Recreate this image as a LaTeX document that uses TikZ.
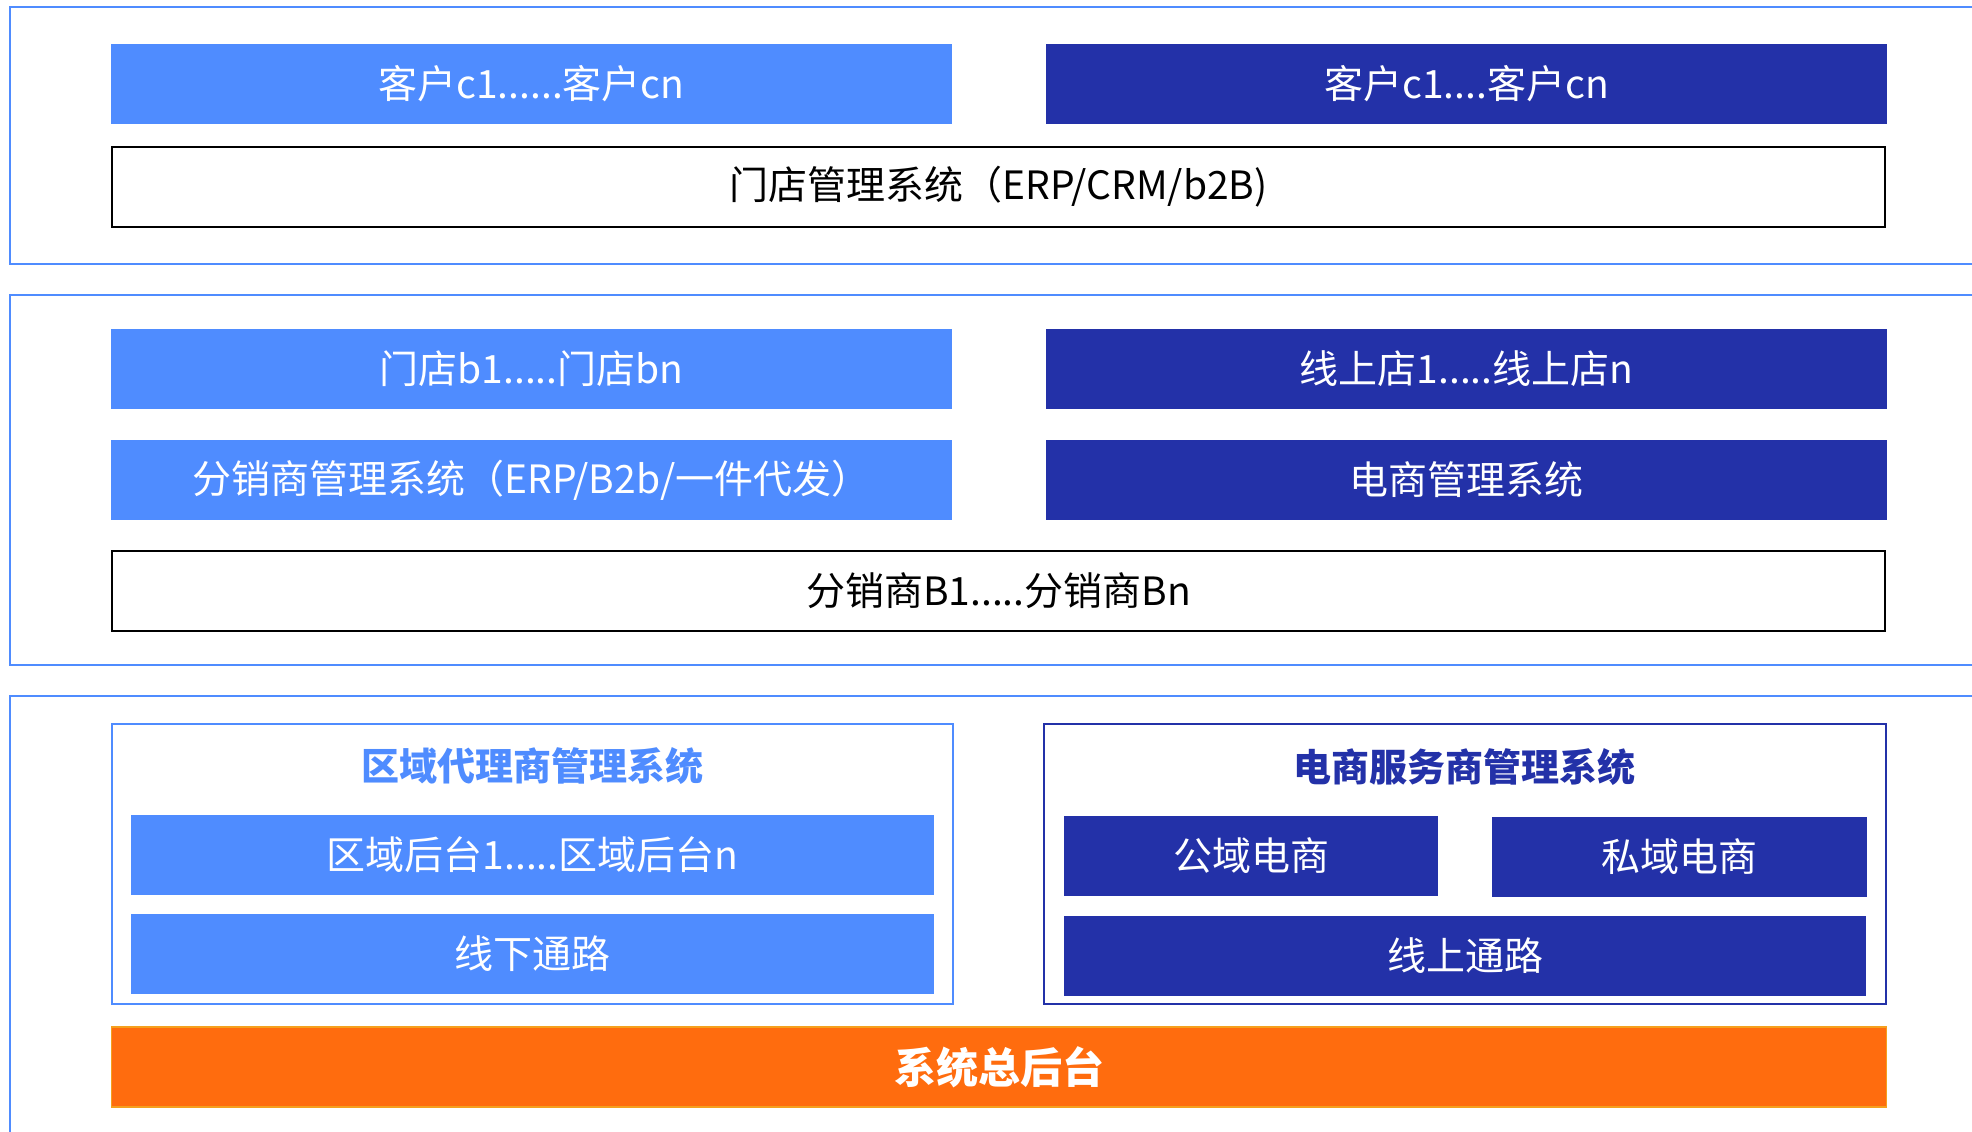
\documentclass[tikz,border=0pt]{standalone}
\usepackage{fontspec}
\setmainfont{Noto Sans CJK SC}
\usepackage{tikz}

\definecolor{lblue}{RGB}{79,140,255}
\definecolor{dblue}{RGB}{35,49,168}
\definecolor{orangebar}{RGB}{255,108,14}
\definecolor{orangeline}{RGB}{245,160,30}

\tikzset{
  layer/.style={draw=lblue,line width=1pt},
  bar/.style={inner sep=0pt,minimum height=40pt,text=white,font=\fontsize{19.5}{22}\selectfont},
  lbar/.style={bar,fill=lblue},
  dbar/.style={bar,fill=dblue},
  wbar/.style={bar,draw=black,line width=1pt,fill=white,text=black,minimum width=886.5pt},
  subsys/.style={inner sep=0pt,fill=white,line width=1pt,minimum height=140pt},
  title/.style={font=\fontsize{19}{22}\selectfont\bfseries}
}

\begin{document}
\begin{tikzpicture}[x=0.5pt,y=-0.5pt]
\useasboundingbox (0,0) rectangle (1972,1131);
\fill[white] (0,0) rectangle (1972,1131);
\draw[layer] (10,7) rectangle (2000,264);
\draw[layer] (10,295) rectangle (2000,665);
\draw[layer] (10,696) rectangle (2000,1160);

\node[lbar,minimum width=420.5pt] (kehuA) at (531.5,84) {客户c1......客户cn};
\node[dbar,minimum width=420.5pt] (kehuB) at (1466.5,84) {客户c1....客户cn};
\node[wbar] (mendianSys) at (998.5,187) {门店管理系统（ERP/CRM/b2B)};

\node[lbar,minimum width=420.5pt] (mendian) at (531.5,369) {门店b1.....门店bn};
\node[dbar,minimum width=420.5pt] (xianshang) at (1466.5,369) {线上店1.....线上店n};
\node[lbar,minimum width=420.5pt] (fenxiaoSys) at (531.5,480) {分销商管理系统（ERP/B2b/一件代发）};
\node[dbar,minimum width=420.5pt] (dianshangSys) at (1466.5,480) {电商管理系统};
\node[wbar] (fenxiaoshang) at (998.5,591) {分销商B1.....分销商Bn};

\node[subsys,draw=lblue,minimum width=420.5pt] (quyuFrame) at (532.5,864) {};
\node[subsys,draw=dblue,minimum width=421pt] (dianshangFrame) at (1464.5,864) {};
\node[title,text=lblue] (quyuTitle) at (532.5,766) {区域代理商管理系统};
\node[title,text=dblue] (dianshangTitle) at (1464.5,767) {电商服务商管理系统};
\node[lbar,minimum width=401.5pt] (quyuHt) at (532.5,855) {区域后台1.....区域后台n};
\node[lbar,minimum width=401.5pt] (xianxia) at (532.5,954) {线下通路};
\node[dbar,minimum width=187pt] (gongyu) at (1251,856) {公域电商};
\node[dbar,minimum width=187.5pt] (siyu) at (1679.5,857) {私域电商};
\node[dbar,minimum width=401pt] (xianshangTl) at (1465,956) {线上通路};

\node[bar,fill=orangebar,draw=orangeline,line width=0.8pt,minimum width=887.5pt,font=\fontsize{21}{24}\selectfont\bfseries] (zongHt) at (999,1067) {系统总后台};
\end{tikzpicture}
\end{document}
